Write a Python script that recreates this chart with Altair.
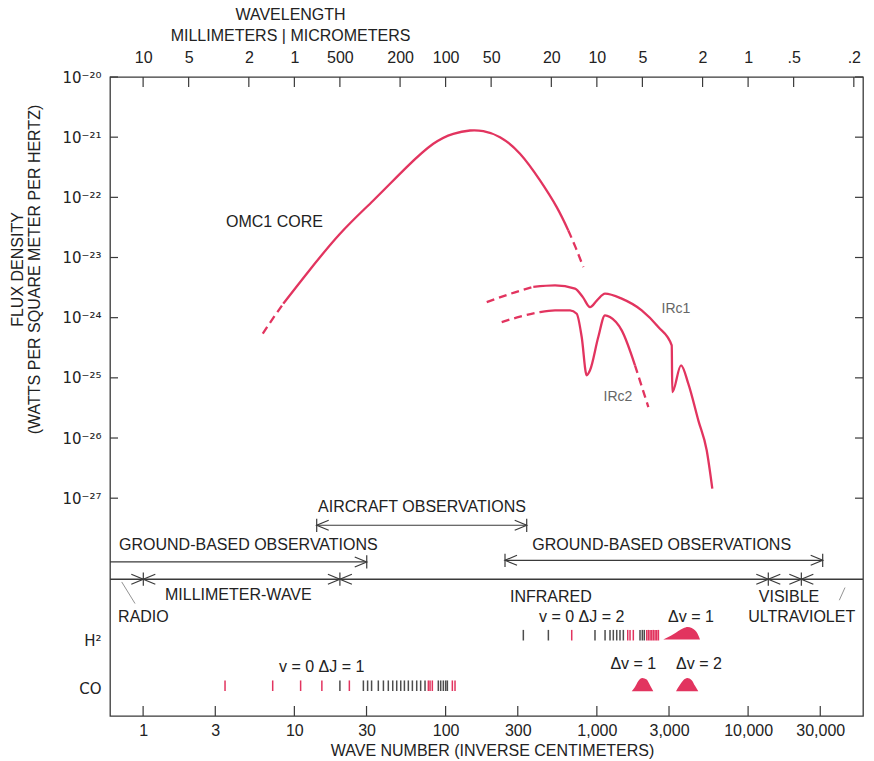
import altair as alt
import pandas as pd

# ---------------- scales / axis values ----------------
x_domain = [0.604, 57500.0]          # wave number, inverse centimeters (log scale)
y_domain = [-30.62, -20.0]           # log10 flux density

bottom_tick_values = [1, 3, 10, 30, 100, 300, 1000, 3000, 10000, 30000]
top_tick_wavenumbers = [1, 2, 5, 10, 20, 50, 100, 200, 500, 1000, 2000, 5000, 10000, 20000, 50000]
top_tick_labels = ["10", "5", "2", "1", "500", "200", "100", "50", "20", "10", "5", "2", "1", ".5", ".2"]
flux_tick_values = [-20, -21, -22, -23, -24, -25, -26, -27]
flux_tick_labels = ["10⁻²⁰", "10⁻²¹", "10⁻²²", "10⁻²³", "10⁻²⁴", "10⁻²⁵", "10⁻²⁶", "10⁻²⁷"]
row_label_values = [-29.36, -30.16]
row_labels = ["H²", "CO"]

# ---------------- spectra (wave number, log10 flux) ----------------
omc1_dash_a_k = [6.18, 7.22, 8.45]
omc1_dash_a_f = [-24.266, -24.012, -23.767]
omc1_k = [8.45, 12.07, 20.04, 33.27, 55.3, 82.9, 112.4, 145.0, 177.6, 228.9, 310.4, 420.9, 542.7, 647.6]
omc1_f = [-23.767, -23.269, -22.605, -22.052, -21.498, -21.110, -20.944, -20.889, -20.900, -21.000,
          -21.276, -21.719, -22.163, -22.550]
omc1_dash_b_k = [647.6, 728.0, 813.7]
omc1_dash_b_f = [-22.550, -22.849, -23.159]

irc1_dash_k = [187.0, 266.6, 380.1]
irc1_dash_f = [-23.741, -23.605, -23.488]
irc1_k = [380.1, 528.8, 717.1, 809.9, 901.0, 1002, 1132, 1460, 1980, 2549, 3126, 3154, 3601, 4023,
          4686, 5324, 5799]
irc1_f = [-23.488, -23.463, -23.518, -23.663, -23.824, -23.713, -23.601, -23.684, -23.879, -24.156,
          -24.460, -25.236, -24.792, -25.096, -25.706, -26.204, -26.841]

irc2_dash_a_k = [234.9, 310.4, 420.9]
irc2_dash_a_f = [-24.073, -23.983, -23.907]
irc2_k = [420.9, 528.8, 664.5, 736.0, 793.9, 856.8, 901.0, 1022, 1132, 1221, 1460, 1787]
irc2_f = [-23.907, -23.879, -23.879, -23.934, -24.322, -24.958, -24.875, -24.322, -23.962, -23.990,
          -24.211, -24.792]
irc2_dash_b_k = [1787, 1980, 2189]
irc2_dash_b_f = [-24.792, -25.141, -25.485]

# ---------------- molecular lines ----------------
h2_row = -29.277
co_row = -30.117
h2_lines_k = [326.5, 478, 682, 972, 1133, 1222, 1285, 1353, 1422, 1497, 1600, 1657, 1742, 1929, 1998,
              2059, 2138, 2193, 2249, 2307, 2366, 2427, 2489, 2553]
h2_lines_pink = [0, 0, 1, 0, 0, 0, 0, 0, 0, 0, 1, 1, 1, 0, 0, 0, 1, 1, 1, 1, 1, 1, 1, 1]
co_lines_k = [3.48, 7.19, 11.0, 15.2, 20.0, 23.1, 28.6, 30.5, 32.4, 35.9, 38.8, 41.8, 44.7, 47.5, 50.5,
              53.4, 56.7, 60.3, 64.4, 68.4, 73.1, 76.9, 78.9, 81.7, 89.5, 92.8, 96.6, 100.1, 102.7,
              110.8, 115.4]
co_lines_pink = [1, 1, 1, 1, 0, 1] + [0] * 15 + [1, 1, 1] + [0] * 5 + [1, 1]

h2_band_k = [2750, 2968, 3203, 3456, 3729, 3987, 4238, 4456, 4643, 4808]
h2_band_f = [-29.349, -29.306, -29.261, -29.206, -29.161, -29.140, -29.156, -29.194, -29.256, -29.349]
co_band1_k = [1700, 1787, 1880, 1998, 2136, 2246, 2362]
co_band1_f = [-30.208, -30.136, -30.037, -29.987, -30.013, -30.108, -30.208]
co_band2_k = [3337, 3509, 3729, 3963, 4238, 4456, 4686]
co_band2_f = [-30.208, -30.119, -30.025, -29.987, -30.025, -30.119, -30.208]

# ---------------- observation ranges / regions ----------------
divider_f = -28.347
region_bounds_k = [1.003, 20.0, 13600, 22490]
obs_start_k = [0.604, 14.05, 247.0]
obs_end_k = [30.1, 343.7, 31130.0]
obs_f = [-28.060, -27.450, -28.032]
obs_start_head = [False, True, True]

# ---------------- text ----------------
left_texts = ["OMC1 CORE", "GROUND-BASED OBSERVATIONS", "RADIO", "MILLIMETER-WAVE", "INFRARED"]
left_texts_k = [3.53, 0.693, 0.683, 1.396, 266.6]
left_texts_f = [-22.417, -27.782, -28.973, -28.613, -28.641]
center_texts = ["AIRCRAFT OBSERVATIONS", "GROUND-BASED OBSERVATIONS", "VISIBLE", "ULTRAVIOLET",
                "v = 0  ΔJ = 2", "Δv = 1", "v = 0   ΔJ = 1", "Δv = 1", "Δv = 2"]
center_texts_k = [69.8, 2685, 18640, 22620, 793.6, 4194, 15.16, 1742, 4737]
center_texts_f = [-27.151, -27.782, -28.641, -28.978, -28.978, -28.978, -29.804, -29.748, -29.748]
curve_labels = ["IRc1", "IRc2"]
curve_labels_k = [3337, 1380]
curve_labels_f = [-23.862, -25.324]

leader_k1 = [0.722, 43720]
leader_k2 = [0.884, 40090]
leader_f1 = [-28.392, -28.485]
leader_f2 = [-28.751, -28.696]

# ---------------- styling ----------------
W, H = 753, 639
PINK = "#e2345f"
GRAY = "#4d4d4d"
INK = "#222222"
FRAME = "#3a3a3a"
FONT = "Liberation Sans"
FS = 16

xs = alt.Scale(type="log", domain=x_domain, nice=False)
ys = alt.Scale(domain=y_domain, nice=False, zero=False)


def ternary(vals, labs):
    expr = "''"
    for v, l in reversed(list(zip(vals, labs))):
        expr = f"(abs(datum.value - ({v})) < 1e-6 ? '{l}' : {expr})"
    return expr


def X(field="k", axis=None):
    return alt.X(f"{field}:Q", scale=xs, axis=axis)


def Y(field="f", axis=None):
    return alt.Y(f"{field}:Q", scale=ys, axis=axis)


y_axis = alt.Axis(
    values=flux_tick_values + row_label_values,
    labelExpr=ternary(flux_tick_values + row_label_values, flux_tick_labels + row_labels),
    ticks=False, tickSize=0, domain=False, grid=False, labelPadding=9, labelFontSize=15,
    labelFont="DejaVu Sans", labelColor=INK, labelFlush=False, labelOverlap=False, labelBound=False,
    title=["FLUX DENSITY", "(WATTS PER SQUARE METER PER HERTZ)"], titleAngle=270,
    titleX=-85, titleY=192, titleAlign="center", titleBaseline="bottom", titleLineHeight=17,
    titleFontSize=FS, titleFontWeight="normal", titleFont=FONT, titleColor=INK,
)
top_axis = alt.Axis(
    orient="top", values=top_tick_wavenumbers,
    labelExpr=ternary(top_tick_wavenumbers, top_tick_labels),
    ticks=False, tickSize=0, domain=False, grid=False, labelPadding=12, labelFontSize=FS,
    labelFont=FONT, labelColor=INK, labelFlush=False, labelOverlap=False, labelBound=False,
    title=["WAVELENGTH", "MILLIMETERS | MICROMETERS"], titleX=180, titleY=-55,
    titleAlign="center", titleBaseline="bottom", titleLineHeight=21, titleFontSize=FS,
    titleFontWeight="normal", titleFont=FONT, titleColor=INK,
)
bottom_axis = alt.Axis(
    orient="bottom", values=bottom_tick_values, format=",d",
    ticks=False, tickSize=0, domain=False, grid=False, labelPadding=6, labelFontSize=FS,
    labelFont=FONT, labelColor=INK, labelFlush=False, labelOverlap=False, labelBound=False,
    title="WAVE NUMBER (INVERSE CENTIMETERS)", titleX=382, titleY=42, titleAlign="center",
    titleBaseline="bottom", titleFontSize=FS, titleFontWeight="normal", titleFont=FONT,
    titleColor=INK,
)

layers = []

# frame ticks (pointing inward) + axes
flux_df = pd.DataFrame({"f": flux_tick_values})
layers.append(alt.Chart(flux_df).mark_rule(color=FRAME, strokeWidth=1.2).encode(
    y=Y(axis=y_axis), x=alt.value(0), x2=alt.value(8)))
layers.append(alt.Chart(flux_df).mark_rule(color=FRAME, strokeWidth=1.2).encode(
    y=Y(), x=alt.value(W - 8), x2=alt.value(W)))
layers.append(alt.Chart(pd.DataFrame({"k": top_tick_wavenumbers})).mark_rule(
    color=FRAME, strokeWidth=1.2).encode(x=X(axis=top_axis), y=alt.value(0), y2=alt.value(10)))
layers.append(alt.Chart(pd.DataFrame({"k": bottom_tick_values})).mark_rule(
    color=FRAME, strokeWidth=1.2).encode(x=X(axis=bottom_axis), y=alt.value(H - 10), y2=alt.value(H)))

# spectra
segs = [
    ("omc1a", "dashed", omc1_dash_a_k, omc1_dash_a_f),
    ("omc1", "smooth", omc1_k, omc1_f),
    ("omc1b", "dashed", omc1_dash_b_k, omc1_dash_b_f),
    ("irc1a", "dashed", irc1_dash_k, irc1_dash_f),
    ("irc1", "solid", irc1_k, irc1_f),
    ("irc2a", "dashed", irc2_dash_a_k, irc2_dash_a_f),
    ("irc2", "solid", irc2_k, irc2_f),
    ("irc2b", "dashed", irc2_dash_b_k, irc2_dash_b_f),
]
rows = []
for name, style, ks, fs in segs:
    for i, (k, f) in enumerate(zip(ks, fs)):
        rows.append({"seg": name, "style": style, "i": i, "k": k, "f": f})
curves = pd.DataFrame(rows)
layers.append(alt.Chart(curves).transform_filter("datum.style == 'smooth'").mark_line(
    color=PINK, strokeWidth=2.3, interpolate="natural").encode(
    x=X(), y=Y(), detail="seg:N", order="i:Q"))
layers.append(alt.Chart(curves).transform_filter("datum.style == 'solid'").mark_line(
    color=PINK, strokeWidth=2.3, interpolate="monotone").encode(
    x=X(), y=Y(), detail="seg:N", order="i:Q"))
layers.append(alt.Chart(curves).transform_filter("datum.style == 'dashed'").mark_line(
    color=PINK, strokeWidth=2.3, strokeDash=[8, 5], interpolate="monotone").encode(
    x=X(), y=Y(), detail="seg:N", order="i:Q"))

# molecular line ticks
lines = pd.DataFrame(
    [{"k": k, "row": h2_row, "kind": "pink" if p else "gray"} for k, p in zip(h2_lines_k, h2_lines_pink)]
    + [{"k": k, "row": co_row, "kind": "pink" if p else "gray"} for k, p in zip(co_lines_k, co_lines_pink)]
)
layers.append(alt.Chart(lines).transform_calculate(
    top="datum.row + 0.088", bot="datum.row - 0.088").mark_rule(strokeWidth=1.5).encode(
    x=X(), y=Y("top"), y2="bot:Q",
    color=alt.Color("kind:N", scale=alt.Scale(domain=["pink", "gray"], range=[PINK, GRAY]), legend=None)))

# vibrational bands
bands = pd.DataFrame(
    [{"band": "h2", "k": k, "f": f, "base": h2_band_f[0]} for k, f in zip(h2_band_k, h2_band_f)]
    + [{"band": "co1", "k": k, "f": f, "base": co_band1_f[0]} for k, f in zip(co_band1_k, co_band1_f)]
    + [{"band": "co2", "k": k, "f": f, "base": co_band2_f[0]} for k, f in zip(co_band2_k, co_band2_f)]
)
layers.append(alt.Chart(bands).mark_area(color=PINK, interpolate="monotone", opacity=1).encode(
    x=X(), y=Y(), y2="base:Q", detail="band:N"))

# divider line
layers.append(alt.Chart(pd.DataFrame({"f": [divider_f]})).mark_rule(color=FRAME, strokeWidth=1.3).encode(
    y=Y(), x=alt.value(0), x2=alt.value(W)))

# observation arrows
obs = pd.DataFrame({"k1": obs_start_k, "k2": obs_end_k, "f": obs_f, "head": obs_start_head})
layers.append(alt.Chart(obs).mark_rule(color=FRAME, strokeWidth=1.2).encode(
    x=X("k1"), x2="k2:Q", y=Y()))

right_heads = pd.DataFrame({"k": obs_end_k + region_bounds_k,
                            "f": obs_f + [divider_f] * len(region_bounds_k)})
left_heads = pd.DataFrame({"k": [k for k, h in zip(obs_start_k, obs_start_head) if h] + region_bounds_k,
                           "f": [f for f, h in zip(obs_f, obs_start_head) if h] + [divider_f] * len(region_bounds_k)})
bars = pd.concat([right_heads, left_heads]).drop_duplicates()
layers.append(alt.Chart(right_heads).mark_point(
    shape="M-2.4,-1L0,0L-2.4,1", filled=False, size=100, color=FRAME, strokeWidth=1.2, opacity=1).encode(
    x=X(), y=Y()))
layers.append(alt.Chart(left_heads).mark_point(
    shape="M2.4,-1L0,0L2.4,1", filled=False, size=100, color=FRAME, strokeWidth=1.2, opacity=1).encode(
    x=X(), y=Y()))
layers.append(alt.Chart(bars).transform_calculate(
    top="datum.f + 0.11", bot="datum.f - 0.11").mark_rule(color=FRAME, strokeWidth=1.2).encode(
    x=X(), y=Y("top"), y2="bot:Q"))

# leader lines
leaders = pd.DataFrame({"k1": leader_k1, "k2": leader_k2, "f1": leader_f1, "f2": leader_f2})
layers.append(alt.Chart(leaders).mark_rule(color="#777777", strokeWidth=0.8).encode(
    x=X("k1"), x2="k2:Q", y=Y("f1"), y2="f2:Q"))

# text
lt = pd.DataFrame({"k": left_texts_k, "f": left_texts_f, "t": left_texts})
ct = pd.DataFrame({"k": center_texts_k, "f": center_texts_f, "t": center_texts})
gt = pd.DataFrame({"k": curve_labels_k, "f": curve_labels_f, "t": curve_labels})
layers.append(alt.Chart(lt).mark_text(font=FONT, fontSize=FS, color=INK, align="left", baseline="middle").encode(
    x=X(), y=Y(), text="t:N"))
layers.append(alt.Chart(ct).mark_text(font=FONT, fontSize=FS, color=INK, align="center", baseline="middle").encode(
    x=X(), y=Y(), text="t:N"))
layers.append(alt.Chart(gt).mark_text(font=FONT, fontSize=14, color="#666666", align="center", baseline="middle").encode(
    x=X(), y=Y(), text="t:N"))

chart = alt.layer(*layers).resolve_axis(x="independent", y="independent").properties(
    width=W, height=H,
    autosize=alt.AutoSizeParams(type="none"),
    padding={"left": 110, "top": 77, "right": 874 - 110 - W, "bottom": 761 - 77 - H},
    background="white",
).configure_view(stroke=FRAME, strokeWidth=1.3)

chart.save("out.html", embed_options={"renderer": "svg", "actions": False})
